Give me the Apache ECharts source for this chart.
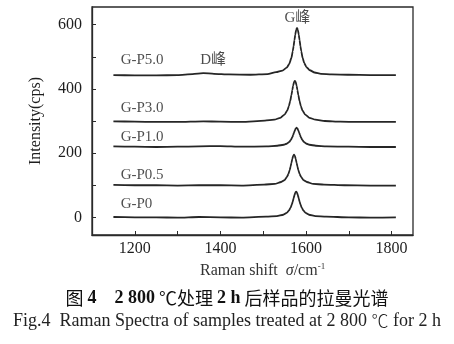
<!DOCTYPE html>
<html>
<head>
<meta charset="utf-8">
<script src="https://cdn.jsdelivr.net/npm/echarts@6/dist/echarts.min.js"></script>
<style>
html,body{margin:0;padding:0;background:#fff;}
#c{width:454px;height:344px;}
</style>
</head>
<body>
<div id="c"></div>
<script>
// ---- data ----
var seriesNames = ['G-P0', 'G-P0.5', 'G-P1.0', 'G-P3.0', 'G-P5.0'];

var gP0 = [[1150,1],[1200,0],[1250,0],[1300,-1],[1350,1],[1400,0],[1450,-1],[1507,2],[1532,4],[1547,8],[1555,14],[1560,21],[1564,30],[1567,40],[1569,49],[1571,59],[1573,69],[1575,77],[1577,80],[1579,77],[1581,69],[1583,59],[1585,49],[1587,40],[1590,30],[1594,21],[1599,14],[1607,8],[1622,4],[1647,2],[1700,0],[1750,-1],[1810,0]];

var gP05 = [[1150,101],[1200,100],[1250,100],[1300,99],[1350,100],[1400,100],[1450,99],[1502,102],[1527,104],[1542,110],[1550,116],[1555,125],[1559,135],[1562,148],[1564,158],[1566,170],[1568,182],[1570,191],[1572,195],[1574,191],[1576,182],[1578,170],[1580,158],[1582,148],[1585,135],[1589,125],[1594,116],[1602,110],[1617,104],[1642,102],[1690,100],[1750,99],[1810,99]];

var gP10 = [[1150,221],[1200,220],[1250,219],[1300,220],[1350,221],[1400,222],[1450,220],[1508,221],[1533,223],[1548,226],[1556,230],[1561,235],[1565,242],[1568,250],[1570,256],[1572,264],[1574,271],[1576,277],[1578,279],[1580,277],[1582,271],[1584,264],[1586,256],[1588,250],[1591,242],[1595,235],[1600,230],[1608,226],[1623,223],[1648,221],[1700,220],[1750,219],[1810,219]];

var gP30 = [[1150,299],[1200,298],[1250,297],[1300,297],[1360,299],[1400,298],[1450,297],[1504,301],[1526,304],[1540,310],[1550,320],[1556,332],[1560,346],[1563,362],[1566,381],[1568,396],[1570,410],[1572,421],[1574,425],[1576,421],[1578,410],[1580,396],[1582,381],[1585,362],[1588,346],[1592,332],[1598,320],[1608,310],[1622,304],[1644,300],[1680,298],[1720,297],[1760,297],[1810,297]];

var gP50 = [[1150,443],[1200,442],[1250,442],[1300,443],[1335,446],[1360,449],[1385,447],[1420,445],[1470,444],[1510,446],[1530,452],[1545,457],[1555,466],[1561,478],[1566,497],[1569,517],[1571,533],[1573,552],[1575,569],[1577,584],[1579,590],[1581,584],[1583,569],[1585,552],[1587,533],[1589,517],[1592,497],[1596,480],[1601,468],[1609,458],[1620,451],[1635,447],[1660,445],[1700,444],[1750,443],[1810,443]];

var xTickValues = [1200, 1300, 1400, 1500, 1600, 1700, 1800];
var xLabelValues = [1200, 1400, 1600, 1800];
var yTickValues = [0, 100, 200, 300, 400, 500, 600];
var yLabelValues = [0, 200, 400, 600];

var annotations = [
  ['G-P5.0', 1167, 490],
  ['D峰', 1353, 490],
  ['G-P3.0', 1167, 341],
  ['G-P1.0', 1167, 251],
  ['G-P0.5', 1167, 133],
  ['G-P0', 1167, 40]
];
var peakAnnotation = ['G峰', 1580, 621];

var xTitle = 'Raman shift';
var yTitle = 'Intensity(cps)';
var captionCN = ['图 ', '4', '　', '2 800', ' ℃处理 ', '2 h', ' 后样品的拉曼光谱'];
var captionEN = ['Fig.4  Raman Spectra of samples treated at 2 800 ', '℃', ' for 2 h'];

// ---- chart ----
var SERIF = '"Liberation Serif", "DejaVu Serif", "Noto Sans CJK SC", serif';
var CJK = '"Noto Sans CJK SC", sans-serif';
var LINE = '#2a2a2a';
var TXT = '#1e1e1e';
var chart = echarts.init(document.getElementById('c'), null, {renderer: 'canvas'});

var allData = [gP0, gP05, gP10, gP30, gP50];
var series = allData.map(function (d, i) {
  return {
    name: seriesNames[i],
    type: 'line',
    data: d,
    symbol: 'none',
    smooth: 0.2,
    smoothMonotone: 'x',
    lineStyle: {color: '#262626', width: 1.8},
    z: 3
  };
});
series.push({
  type: 'scatter',
  symbolSize: 0,
  silent: true,
  data: annotations.map(function (a) { return {name: a[0], value: [a[1], a[2]]}; }),
  label: {
    show: true, position: 'inside', align: 'left', verticalAlign: 'middle',
    formatter: '{b}', color: TXT, fontSize: 15, fontFamily: SERIF
  }
});
series.push({
  type: 'scatter',
  symbolSize: 0,
  silent: true,
  data: [{name: peakAnnotation[0], value: [peakAnnotation[1], peakAnnotation[2]]}],
  label: {
    show: true, position: 'inside', align: 'center', verticalAlign: 'middle',
    formatter: '{b}', color: TXT, fontSize: 15, fontFamily: SERIF
  }
});

function plain(v) { return String(v); }

chart.setOption({
  animation: false,
  backgroundColor: '#fff',
  grid: {left: 92, right: 41, top: 7, bottom: 109, show: true, borderColor: LINE, borderWidth: 1.3, backgroundColor: 'transparent'},
  xAxis: {
    type: 'value', min: 1100, max: 1850,
    axisLine: {show: true, onZero: false, lineStyle: {color: LINE, width: 1.3}},
    axisTick: {show: true, inside: true, length: 4, customValues: xTickValues, lineStyle: {color: LINE}},
    axisLabel: {show: true, customValues: xLabelValues, formatter: plain, color: TXT, fontSize: 16, fontFamily: SERIF, margin: 6},
    splitLine: {show: false}
  },
  yAxis: {
    type: 'value', min: -55, max: 655,
    name: yTitle, nameLocation: 'middle', nameGap: 48, nameRotate: 90,
    nameTextStyle: {color: TXT, fontSize: 16, fontFamily: SERIF},
    axisLine: {show: true, onZero: false, lineStyle: {color: LINE, width: 1.3}},
    axisTick: {show: true, inside: true, length: 4, customValues: yTickValues, lineStyle: {color: LINE}},
    axisLabel: {show: true, customValues: yLabelValues, formatter: plain, color: TXT, fontSize: 16, fontFamily: SERIF, margin: 10},
    splitLine: {show: false}
  },
  series: series,
  graphic: [
    {
      type: 'text', left: 200, top: 262,
      style: {
        text: '{n|' + xTitle + '  }{i|σ}{n|/cm}{s|-1}',
        rich: {
          n: {fontSize: 16, fontFamily: SERIF, fill: '#333', color: '#333'},
          i: {fontSize: 16, fontFamily: SERIF, fontStyle: 'italic', fill: '#333', color: '#333'},
          s: {fontSize: 9, fontFamily: SERIF, fill: '#333', color: '#333', verticalAlign: 'top', padding: [0, 0, 8, 0]}
        }
      }
    },
    {
      type: 'text', x: 227, y: 298,
      style: {
        text: '{c|' + captionCN[0] + '}{b|' + captionCN[1] + '}{c|' + captionCN[2] + '}{b|' + captionCN[3] + '}{c|' + captionCN[4] + '}{b|' + captionCN[5] + '}{c|' + captionCN[6] + '}',
        align: 'center', verticalAlign: 'middle',
        rich: {
          c: {fontSize: 18, fontWeight: 'normal', fontFamily: CJK, fill: '#111', color: '#111'},
          b: {fontSize: 18, fontWeight: 'bold', fontFamily: SERIF, fill: '#111', color: '#111'}
        }
      }
    },
    {
      type: 'text', x: 227, y: 321,
      style: {
        text: '{e|' + captionEN[0] + '}{d|' + captionEN[1] + '}{e|' + captionEN[2] + '}',
        align: 'center', verticalAlign: 'middle',
        rich: {
          e: {fontSize: 18, fontFamily: SERIF, fill: '#222', color: '#222'},
          d: {fontSize: 17, fontWeight: 300, fontFamily: CJK, fill: '#222', color: '#222'}
        }
      }
    }
  ]
});
</script>
</body>
</html>
